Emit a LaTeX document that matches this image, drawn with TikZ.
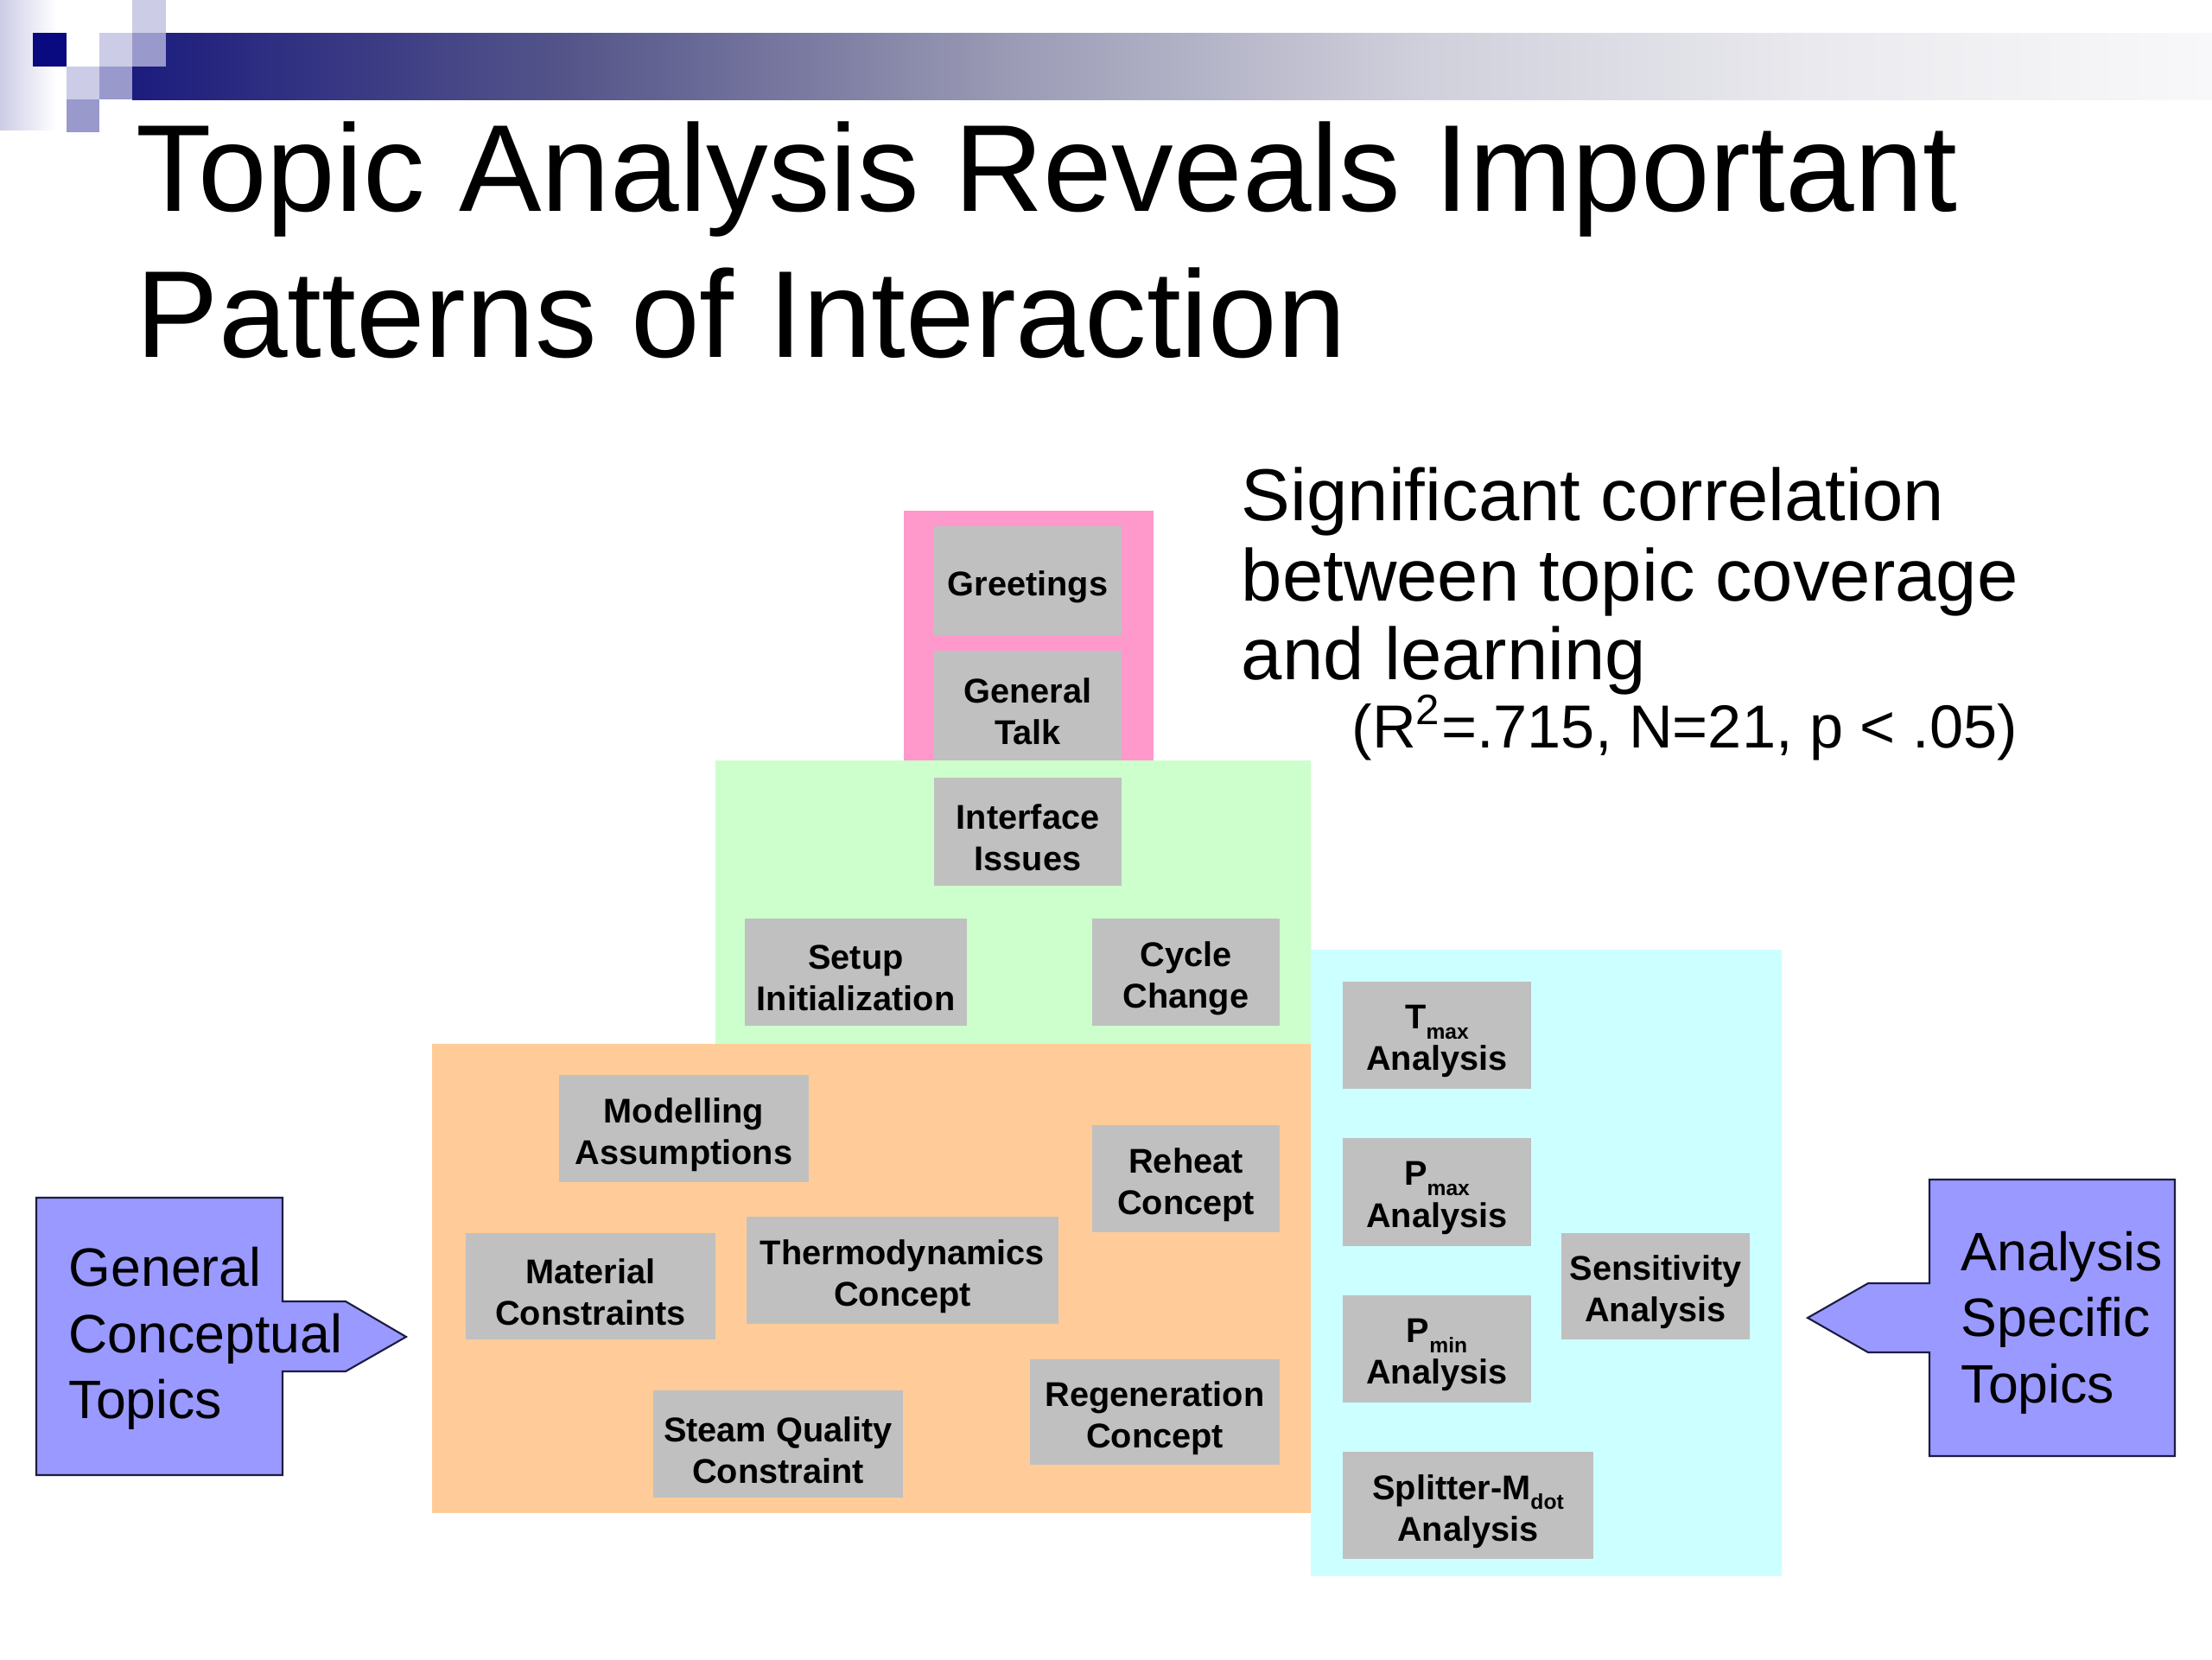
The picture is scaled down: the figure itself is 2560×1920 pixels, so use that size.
\documentclass[tikz,border=0pt]{standalone}
\usepackage{fontspec}
\setmainfont{Liberation Sans}
\definecolor{pinkA}{HTML}{FF99CC}
\definecolor{greenA}{HTML}{CCFFCC}
\definecolor{orangeA}{HTML}{FFCC99}
\definecolor{cyanA}{HTML}{CCFFFF}
\definecolor{grayA}{HTML}{C0C0C0}
\definecolor{callA}{HTML}{9999FF}
\definecolor{callLine}{HTML}{1C1C40}
\definecolor{navyA}{HTML}{0A0A80}
\definecolor{navyBar}{HTML}{1C1C7E}
\definecolor{barA}{HTML}{55558A}
\definecolor{barB}{HTML}{9A9AB5}
\definecolor{barC}{HTML}{D0D0DC}
\definecolor{barD}{HTML}{ECECF0}
\definecolor{barE}{HTML}{F8F8FA}
\definecolor{lavL}{HTML}{CCCCE6}
\definecolor{lavM}{HTML}{9999CC}
\pgfdeclarehorizontalshading{barshade}{100bp}{color(0bp)=(navyBar); color(25bp)=(navyBar); color(35.5bp)=(barA); color(46bp)=(barB); color(56bp)=(barC); color(66.5bp)=(barD); color(75bp)=(barE); color(100bp)=(barE)}
\newcommand{\lowsub}[1]{\raisebox{-0.55ex}{\fontsize{7}{7}\selectfont #1}}
\newcommand{\gbx}[6]{\node[gbox, minimum width={(#4-#2)*0.01cm}, minimum height={(#5-#3)*0.01cm}] (#1) at ({(#2+#4)/2},{(#3+#5)/2}) {};
  \node[gtext, yshift=-0.07cm] (#1-txt) at (#1.center) {#6};}
\begin{document}
\begin{tikzpicture}[x=0.01cm,y=-0.01cm,
  gbox/.style={fill=grayA, inner sep=0pt},
  gtext/.style={inner sep=0pt, align=center, font=\bfseries\fontsize{11.3}{13.7}\selectfont},
  plain/.style={anchor=base west, inner sep=0pt},
  callout/.style={fill=callA, draw=callLine, line width=0.6pt, line join=miter}]
\useasboundingbox (0,0) rectangle (2560,1920);
\fill[white] (0,0) rectangle (2560,1920);
% header decoration
\shade[left color=lavL, right color=white] (0,0) rectangle (65,150);
\shade[shading=barshade] (153,38) rectangle (2560,115);
\fill[navyA] (38,38) rectangle (77,77);
\fill[lavL] (115,38) rectangle (153,77);
\fill[lavL] (153,0) rectangle (192,38);
\fill[lavL] (77,77) rectangle (115,115);
\fill[lavM] (153,38) rectangle (192,77);
\fill[lavM] (115,77) rectangle (153,115);
\fill[lavM] (77,115) rectangle (115,153);
% title
\node[plain, font=\fontsize{40.7}{48}\selectfont] (title1) at (157,244) {Topic Analysis Reveals Important};
\node[plain, font=\fontsize{40.7}{48}\selectfont] (title2) at (157,413) {Patterns of Interaction};
% correlation text
\node[plain, font=\fontsize{24.2}{26}\selectfont] (sig1) at (1436,602) {Significant correlation};
\node[plain, font=\fontsize{24.2}{26}\selectfont] (sig2) at (1436,695) {between topic coverage};
\node[plain, font=\fontsize{24.2}{26}\selectfont] (sig3) at (1436,786) {and learning};
\node[plain, font=\fontsize{20}{22}\selectfont] (stat) at (1564,865) {(R\textsuperscript{2}=.715, N=21, p < .05)};
% coloured regions
\fill[pinkA] (1046,591) rectangle (1335,880);
\fill[greenA] (828,880) rectangle (1517,1208);
\fill[orangeA] (500,1208) rectangle (1517,1751);
\fill[cyanA] (1517,1099) rectangle (2062,1824);
% grey topic boxes
\gbx{greet}{1081}{609}{1298}{735}{Greetings}
\gbx{talk}{1081}{753}{1298}{880}{General\\Talk}
\gbx{iface}{1081}{900}{1298}{1025}{Interface\\Issues}
\gbx{setup}{862}{1063}{1119}{1187}{Setup\\Initialization}
\gbx{cycle}{1264}{1063}{1481}{1187}{Cycle\\Change}
\gbx{model}{647}{1244}{936}{1368}{Modelling\\Assumptions}
\gbx{reheat}{1264}{1302}{1481}{1426}{Reheat\\Concept}
\gbx{mater}{539}{1427}{828}{1550}{Material\\Constraints}
\gbx{thermo}{864}{1408}{1225}{1532}{Thermodynamics\\Concept}
\gbx{steam}{756}{1609}{1045}{1733}{Steam Quality\\Constraint}
\gbx{regen}{1192}{1573}{1481}{1695}{Regeneration\\Concept}
\gbx{tmax}{1554}{1136}{1772}{1260}{T\lowsub{max}\\Analysis}
\gbx{pmax}{1554}{1317}{1772}{1442}{P\lowsub{max}\\Analysis}
\gbx{pmin}{1554}{1499}{1772}{1623}{P\lowsub{min}\\Analysis}
\gbx{split}{1554}{1680}{1844}{1804}{Splitter-M\lowsub{dot}\\Analysis}
\gbx{sens}{1807}{1427}{2025}{1550}{Sensitivity\\Analysis}
% callouts
\draw[callout] (42,1386) -- (327,1386) -- (327,1506) -- (400,1506) -- (470,1547) -- (400,1587) -- (327,1587) -- (327,1707) -- (42,1707) -- cycle;
\node[plain, font=\fontsize{17.8}{21}\selectfont] (gct1) at (79,1488) {General};
\node[plain, font=\fontsize{17.8}{21}\selectfont] (gct2) at (79,1565) {Conceptual};
\node[plain, font=\fontsize{17.8}{21}\selectfont] (gct3) at (79,1641) {Topics};
\draw[callout] (2233,1365) -- (2517,1365) -- (2517,1685) -- (2233,1685) -- (2233,1565) -- (2162,1565) -- (2092,1525) -- (2162,1485) -- (2233,1485) -- cycle;
\node[plain, font=\fontsize{17.8}{21}\selectfont] (ast1) at (2269,1470) {Analysis};
\node[plain, font=\fontsize{17.8}{21}\selectfont] (ast2) at (2269,1546) {Specific};
\node[plain, font=\fontsize{17.8}{21}\selectfont] (ast3) at (2269,1623) {Topics};
\end{tikzpicture}
\end{document}
